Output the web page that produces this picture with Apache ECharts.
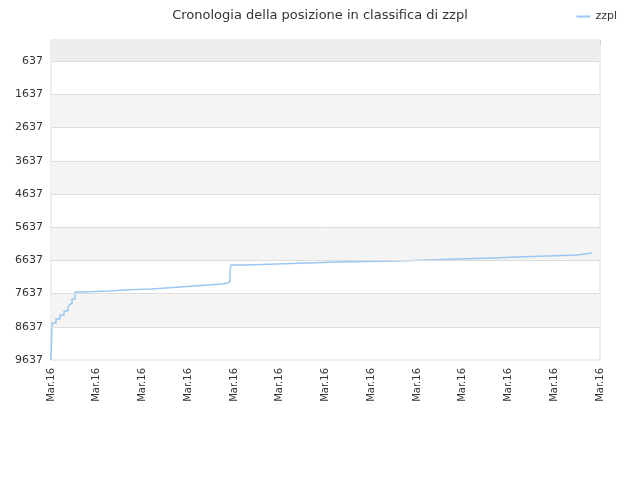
<!DOCTYPE html><html><head><meta charset="utf-8"><script src="https://cdn.jsdelivr.net/npm/echarts@6/dist/echarts.min.js"></script></head><body style="margin:0"><div id="c" style="width:640px;height:480px"></div><script>
var xVals=[0,0.022,0.109,0.197,0.284,0.372,0.415,0.459,0.525,0.678,0.984,1.290,1.596,1.902,2.208,2.514,2.820,3.126,3.432,3.738,3.869,3.913,3.934,4.284,4.940,5.596,6.251,6.907,7.563,8.219,8.874,9.530,10.186,10.842,11.497,11.825];
var ranks=[9637,8525,8405,8284,8164,8043,7953,7803,7592,7577,7562,7532,7517,7502,7471,7441,7411,7381,7351,7321,7261,6930,6779,6749,6719,6689,6674,6659,6629,6599,6569,6538,6508,6478,6418,6418];
var yTicks=[637,1637,2637,3637,4637,5637,6637,7637,8637,9637];
var xLabel='Mar.16';
var data=xVals.map(function(x,i){return [x,ranks[i]];});
var bands=[[{yAxis:0,itemStyle:{color:'#eeeeee'}},{yAxis:637}]];
for(var i=1;i<yTicks.length;i+=2){bands.push([{yAxis:yTicks[i],itemStyle:{color:'#f4f4f4'}},{yAxis:yTicks[i+1]}]);}
var lines=yTicks.slice(0,-1).map(function(v){return {yAxis:v};});
var c=echarts.init(document.getElementById('c'));
c.setOption({
title:{text:'Cronologia della posizione in classifica di zzpl',left:'center',top:4,textStyle:{fontSize:13,fontWeight:'normal',color:'#333',fontFamily:'DejaVu Sans'}},
legend:{right:18,top:6,itemWidth:14,itemHeight:2,textStyle:{fontSize:11,color:'#333',fontFamily:'DejaVu Sans'},data:[{name:'zzpl',icon:'rect'}]},
grid:{left:51,right:40,top:40,bottom:120,show:true,borderColor:'#dddddd',borderWidth:1},
xAxis:{type:'value',min:0,max:12,interval:1,axisLine:{lineStyle:{color:'#cccccc'}},axisTick:{show:true,lineStyle:{color:'#cccccc'}},splitLine:{show:false},
axisLabel:{rotate:90,formatter:function(){return xLabel;},fontSize:10,color:'#333',fontFamily:'DejaVu Sans'}},
yAxis:{type:'value',inverse:true,min:0,max:9637,axisLine:{show:false},axisTick:{show:false},splitLine:{show:false},
axisLabel:{customValues:yTicks,formatter:function(v){return String(v);},fontSize:11,color:'#333',fontFamily:'DejaVu Sans'}},
series:[{name:'zzpl',type:'line',step:'end',data:data,symbol:'none',lineStyle:{color:'#99c8f2',width:1.5},itemStyle:{color:'#99c8f2'},
markArea:{silent:true,data:bands},
markLine:{silent:true,symbol:'none',label:{show:false},lineStyle:{color:'#dddddd',type:'solid',width:1},data:lines}}]
});
</script></body></html>
